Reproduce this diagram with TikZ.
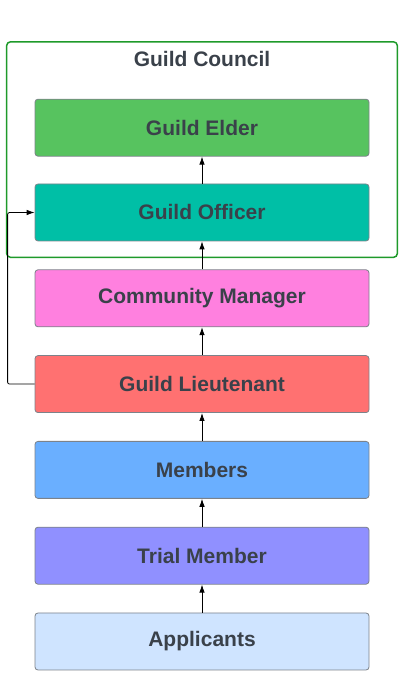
\documentclass[tikz,border=0pt]{standalone}
\usepackage{fontspec}
\setmainfont{Liberation Sans}
\usetikzlibrary{positioning,arrows.meta,calc}

\definecolor{textgrey}{HTML}{3A414A}
\definecolor{edgegrey}{HTML}{7C828A}
\definecolor{councilgreen}{HTML}{1E9A2A}
\definecolor{eldergreen}{HTML}{57C35F}
\definecolor{officerteal}{HTML}{00BFA6}
\definecolor{managerpink}{HTML}{FF80DF}
\definecolor{lieutred}{HTML}{FF7171}
\definecolor{memberblue}{HTML}{6AAFFF}
\definecolor{trialviolet}{HTML}{9090FF}
\definecolor{applicantblue}{HTML}{CFE4FF}

\tikzstyle{rank} = [rectangle, rounded corners=3pt, minimum width=334pt, minimum height=57pt, text centered, draw=edgegrey, line width=0.8pt, text=textgrey, font=\fontsize{21}{25}\selectfont\bfseries]
\tikzstyle{council} = [draw=councilgreen, line width=1.5pt, rounded corners=4pt]
\tikzstyle{arrow} = [line width=0.8pt, ->, >={Latex[length=8pt,width=5.5pt]}]

\begin{document}
\begin{tikzpicture}[x=1pt, y=1pt, node distance=28pt]
\useasboundingbox (0,0) rectangle (404,700);

\node (applicants) [rank, fill=applicantblue] at (202,58.5) {Applicants};
\node (trial) [rank, fill=trialviolet, above=of applicants] {Trial Member};
\node (members) [rank, fill=memberblue, above=of trial] {Members};
\node (lieutenant) [rank, fill=lieutred, above=of members] {Guild Lieutenant};
\node (manager) [rank, fill=managerpink, above=of lieutenant] {Community Manager};
\node (officer) [rank, fill=officerteal, above=of manager] {Guild Officer};
\node (elder) [rank, fill=eldergreen, above=27pt of officer] {Guild Elder};
\node (title) [text=textgrey, font=\fontsize{21}{25}\selectfont\bfseries, above=29pt of elder] {Guild Council};

\draw [council] ($(officer.south west)+(-28pt,-16pt)$) rectangle ($(elder.north east)+(28pt,57pt)$);

\draw [arrow] (applicants) -- (trial);
\draw [arrow] (trial) -- (members);
\draw [arrow] (members) -- (lieutenant);
\draw [arrow] (lieutenant) -- (manager);
\draw [arrow] (manager) -- (officer);
\draw [arrow] (officer) -- (elder);
\draw [arrow, rounded corners=2pt] (lieutenant.west) --++ (-27pt,0pt) |- (officer.west);

\end{tikzpicture}
\end{document}
